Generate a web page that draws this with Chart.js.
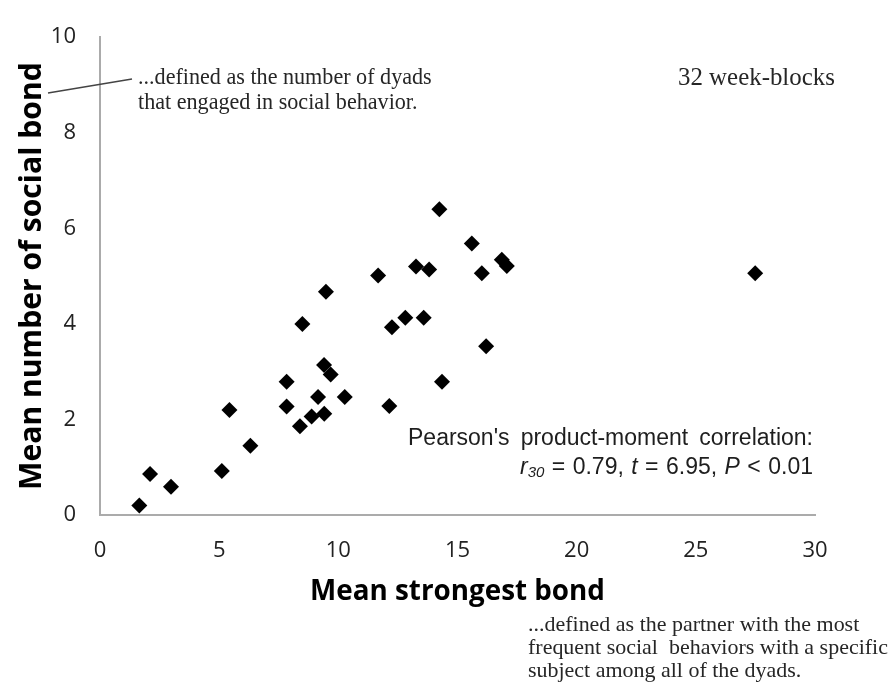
<!DOCTYPE html>
<html>
<head>
<meta charset="utf-8">
<script src="https://cdn.jsdelivr.net/npm/chart.js@4.4.1/dist/chart.umd.min.js"></script>
<style>
  html, body { margin: 0; padding: 0; background: #fff; }
  canvas { display: block; }
</style>
</head>
<body>
<canvas id="bondChart" width="896" height="695"></canvas>
<script>
// one point per week-block (32 of them)
const strongestBond = [14.24, 13.26, 13.81, 11.67, 9.48, 8.49, 12.25, 12.81, 13.58, 9.40, 9.68,
  7.83, 14.35, 7.83, 9.15, 10.27, 12.14, 5.43, 8.88, 9.41, 8.39, 6.31, 5.11, 2.10, 2.98, 1.65,
  15.60, 16.02, 16.86, 17.07, 27.49, 16.20];
const socialBonds = [6.40, 5.20, 5.14, 5.01, 4.67, 4.00, 3.93, 4.13, 4.13, 3.14, 2.94,
  2.79, 2.79, 2.27, 2.47, 2.47, 2.28, 2.20, 2.06, 2.12, 1.86, 1.45, 0.92, 0.86, 0.59, 0.20,
  5.68, 5.06, 5.34, 5.21, 5.06, 3.53];
const xTicks = [0, 5, 10, 15, 20, 25, 30];
const yTicks = [0, 2, 4, 6, 8, 10];

const xTitle = 'Mean strongest bond';
const yTitle = 'Mean number of social bond';
const noteY = ['...defined as the number of dyads', 'that engaged in social behavior.'];
const noteX = ['...defined as the partner with the most', 'frequent social  behaviors with a specific', 'subject among all of the dyads.'];
const blocksNote = '32 week-blocks';

const sans = '"Open Sans", sans-serif';
const serif = '"Liberation Serif", serif';
const arial = '"Liberation Sans", Arial, sans-serif';

// font size that makes a text a given width
const meas = document.createElement('canvas').getContext('2d');
function fitSize(text, weight, family, width) {
  meas.font = weight + ' 100px ' + family;
  return 100 * width / meas.measureText(text).width;
}

const xTitleSize = fitSize(xTitle, 'bold', sans, 295);
const yTitleSize = fitSize(yTitle, 'bold', sans, 428);
const noteYSize = fitSize(noteY[0], 'normal', serif, 294);
const noteXSize = fitSize(noteX[1], 'normal', serif, 360);
const blocksSize = fitSize(blocksNote, 'normal', serif, 157);

// draw runs of text spread out so the line spans a given width
function drawJustified(ctx, runs, left, right, y) {
  let natural = 0, spaces = 0;
  runs.forEach(r => {
    ctx.font = r.font;
    natural += ctx.measureText(r.text).width;
    spaces += r.text.split(' ').length - 1;
  });
  const extra = spaces ? Math.max(0, (right - left - natural) / spaces) : 0;
  let x = left;
  runs.forEach(r => {
    ctx.font = r.font;
    const parts = r.text.split(' ');
    parts.forEach((p, i) => {
      ctx.fillText(p, x, y + (r.dy || 0));
      x += ctx.measureText(p).width;
      if (i < parts.length - 1) x += ctx.measureText(' ').width + extra;
    });
  });
}

const notes = {
  id: 'notes',
  afterDraw(chart) {
    const ctx = chart.ctx;
    ctx.save();
    ctx.textBaseline = 'middle';
    ctx.textAlign = 'left';

    // leader line to the y axis title
    ctx.strokeStyle = '#444';
    ctx.lineWidth = 1.5;
    ctx.beginPath();
    ctx.moveTo(48, 93);
    ctx.lineTo(132, 79);
    ctx.stroke();

    ctx.fillStyle = '#262626';
    ctx.font = noteYSize + 'px ' + serif;
    noteY.forEach((t, i) => ctx.fillText(t, 138, 78 + i * 25));

    ctx.font = noteXSize + 'px ' + serif;
    noteX.forEach((t, i) => ctx.fillText(t, 528, 625 + i * 23));

    ctx.font = blocksSize + 'px ' + serif;
    ctx.fillText(blocksNote, 678, 78);

    ctx.fillStyle = '#1e1e1e';
    const reg = '23px ' + arial, ital = 'italic 23px ' + arial, sub = 'italic 15px ' + arial;
    drawJustified(ctx, [{text: "Pearson's product-moment correlation:", font: reg}], 408, 813, 439);
    drawJustified(ctx, [
      {text: 'r', font: ital},
      {text: '30', font: sub, dy: 5},
      {text: ' = 0.79, ', font: reg},
      {text: 't', font: ital},
      {text: ' = 6.95, ', font: reg},
      {text: 'P', font: ital},
      {text: ' < 0.01', font: reg}
    ], 520, 813, 468);
    ctx.restore();
  }
};

const ctx = document.getElementById('bondChart').getContext('2d');
const chart = new Chart(ctx, {
  type: 'scatter',
  data: {
    datasets: [{
      data: strongestBond.map((x, i) => ({x: x, y: socialBonds[i]})),
      pointStyle: 'rectRot',
      pointRadius: 8,
      pointBorderWidth: 0,
      backgroundColor: '#000',
      borderColor: '#000',
      clip: false
    }]
  },
  options: {
    responsive: false,
    animation: false,
    devicePixelRatio: 1,
    layout: { padding: { top: 20, right: 81, left: 0, bottom: 0 } },
    plugins: { legend: { display: false }, tooltip: { enabled: false } },
    scales: {
      x: {
        type: 'linear',
        min: 0,
        max: 30,
        afterBuildTicks: s => { s.ticks = xTicks.map(v => ({ value: v })); },
        afterFit: s => { s.height = 180; },
        grid: { drawOnChartArea: false, drawTicks: false },
        border: { color: '#ababab', width: 2 },
        ticks: { padding: 23, color: '#222', font: { family: sans, size: 22 } },
        title: {
          display: true, text: xTitle, color: '#000',
          font: { family: sans, weight: 'bold', size: xTitleSize },
          padding: { top: 0, bottom: 103 - xTitleSize * 0.6 }
        }
      },
      y: {
        type: 'linear',
        min: 0,
        max: 10,
        afterBuildTicks: s => { s.ticks = yTicks.map(v => ({ value: v })); },
        afterFit: s => { s.width = 100; },
        grid: { drawOnChartArea: false, drawTicks: false },
        border: { color: '#ababab', width: 2 },
        ticks: { padding: 24, color: '#222', font: { family: sans, size: 22 } },
        title: {
          display: true, text: yTitle, color: '#000',
          font: { family: sans, weight: 'bold', size: yTitleSize },
          padding: { top: 32 - yTitleSize * 0.6, bottom: 0 }
        }
      }
    }
  },
  plugins: [notes]
});
</script>
</body>
</html>
